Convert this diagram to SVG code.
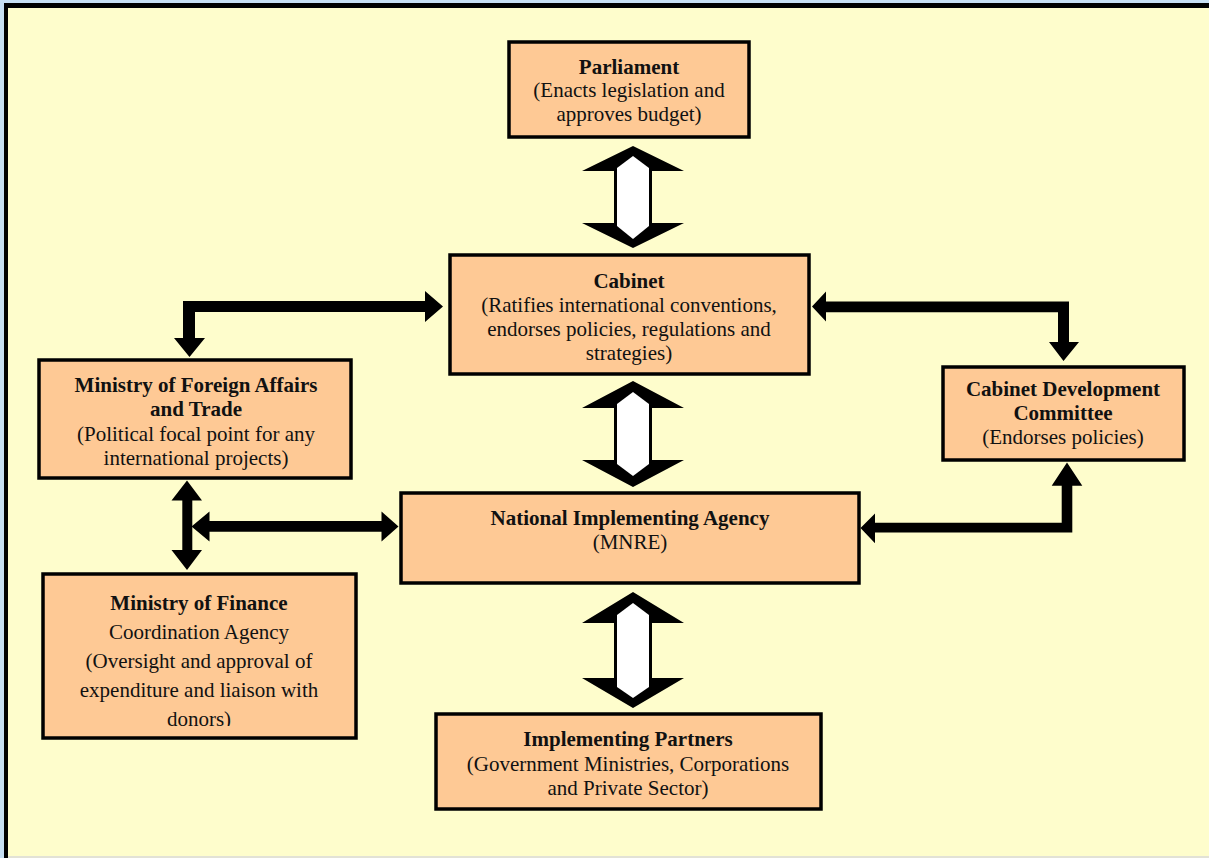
<svg xmlns="http://www.w3.org/2000/svg" width="1209" height="858" viewBox="0 0 1209 858">
<defs>
<style>
.box{fill:#fec995;stroke:#000;stroke-width:3.5}
.t{font-family:"Liberation Serif","Times New Roman",serif;font-size:21px;fill:#111;text-anchor:middle}
.b{font-weight:bold}
.blk{fill:#000}
.wht{fill:#fff}
</style>
<clipPath id="mofclip"><rect x="44" y="575" width="311" height="151"/></clipPath>
</defs>
<rect x="0" y="0" width="1209" height="858" fill="#c6dff3"/>
<rect x="4" y="3" width="1205" height="855" fill="#000"/>
<rect x="8" y="8" width="1201" height="850" fill="#fefdcc"/>
<rect x="8" y="856" width="1201" height="2" fill="#e2e2d6"/>

<g id="connectors">
  <!-- Parliament - Cabinet -->
  <polygon class="blk" points="633,146 684,171 652,171 652,223 684,223 633,248 582,223 614,223 614,171 582,171"/>
  <polygon class="wht" points="633,156 649,168 649,226 633,239 617,226 617,168"/>
  <!-- Cabinet - NIA -->
  <polygon class="blk" points="633,381 684,408 652,408 652,460 684,460 633,487 582,460 614,460 614,408 582,408"/>
  <polygon class="wht" points="633,392 649,404 649,464 633,476 617,464 617,404"/>
  <!-- NIA - Implementing Partners -->
  <polygon class="blk" points="633,592 684,623 652,623 652,678 684,678 633,708 582,678 614,678 614,623 582,623"/>
  <polygon class="wht" points="633,603 649,615 649,687 633,698 617,687 617,615"/>
  <!-- Cabinet -> MoFAT elbow -->
  <polygon class="blk" points="443,306.5 425,291 425,301 183,301 183,338 174,338 189.5,357 205,338 195,338 195,312 425,312 425,322"/>
  <!-- Cabinet -> CDC elbow -->
  <polygon class="blk" points="812,306.5 826,291.5 826,301.5 1069,301.5 1069,342 1079,342 1063.5,361 1049,342 1058,342 1058,312.3 826,312.3 826,321.5"/>
  <!-- MoFAT <-> MoF vertical -->
  <polygon class="blk" points="187,480.5 202,500.5 192.3,500.5 192.3,550 202,550 187,570 171.5,550 182.3,550 182.3,500.5 171.5,500.5"/>
  <!-- MoFAT axis <-> NIA horizontal -->
  <polygon class="blk" points="191.5,526.5 209.5,511.5 209.5,521 381.5,521 381.5,511.5 398.5,526.5 381.5,541.5 381.5,531.7 209.5,531.7 209.5,541.5"/>
  <!-- NIA <-> CDC elbow -->
  <polygon class="blk" points="860.5,528 875,513.5 875,522.7 1061.7,522.7 1061.7,485.7 1051.7,485.7 1067,462.5 1082.3,485.7 1072.3,485.7 1072.3,532.5 875,532.5 875,543.3"/>
</g>

<g id="parliament">
  <rect class="box" x="509" y="42" width="240" height="95"/>
  <text class="t b" x="629" y="74">Parliament</text>
  <text class="t" x="629" y="97">(Enacts legislation and</text>
  <text class="t" x="629" y="121">approves budget)</text>
</g>

<g id="cabinet">
  <rect class="box" x="450" y="255" width="359" height="119"/>
  <text class="t b" x="629" y="288">Cabinet</text>
  <text class="t" x="629" y="312">(Ratifies international conventions,</text>
  <text class="t" x="629" y="336">endorses policies, regulations and</text>
  <text class="t" x="629" y="360">strategies)</text>
</g>

<g id="mofat">
  <rect class="box" x="39" y="360" width="312" height="118"/>
  <text class="t b" x="196" y="392">Ministry of Foreign Affairs</text>
  <text class="t b" x="196" y="416">and Trade</text>
  <text class="t" x="196" y="441">(Political focal point for any</text>
  <text class="t" x="196" y="465">international projects)</text>
</g>

<g id="cdc">
  <rect class="box" x="943" y="367" width="241" height="93"/>
  <text class="t b" x="1063" y="396">Cabinet Development</text>
  <text class="t b" x="1063" y="420">Committee</text>
  <text class="t" x="1063" y="444">(Endorses policies)</text>
</g>

<g id="nia">
  <rect class="box" x="401" y="493" width="458" height="90"/>
  <text class="t b" x="630" y="525">National Implementing Agency</text>
  <text class="t" x="630" y="549">(MNRE)</text>
</g>

<g id="mof">
  <rect class="box" x="43" y="574" width="313" height="164"/>
  <g clip-path="url(#mofclip)">
    <text class="t b" x="199" y="610">Ministry of Finance</text>
    <text class="t" x="199" y="639">Coordination Agency</text>
    <text class="t" x="199" y="668">(Oversight and approval of</text>
    <text class="t" x="199" y="697">expenditure and liaison with</text>
    <text class="t" x="199" y="726">donors)</text>
  </g>
</g>

<g id="partners">
  <rect class="box" x="436" y="714" width="385" height="95"/>
  <text class="t b" x="628" y="746">Implementing Partners</text>
  <text class="t" x="628" y="771">(Government Ministries, Corporations</text>
  <text class="t" x="628" y="795">and Private Sector)</text>
</g>
</svg>
